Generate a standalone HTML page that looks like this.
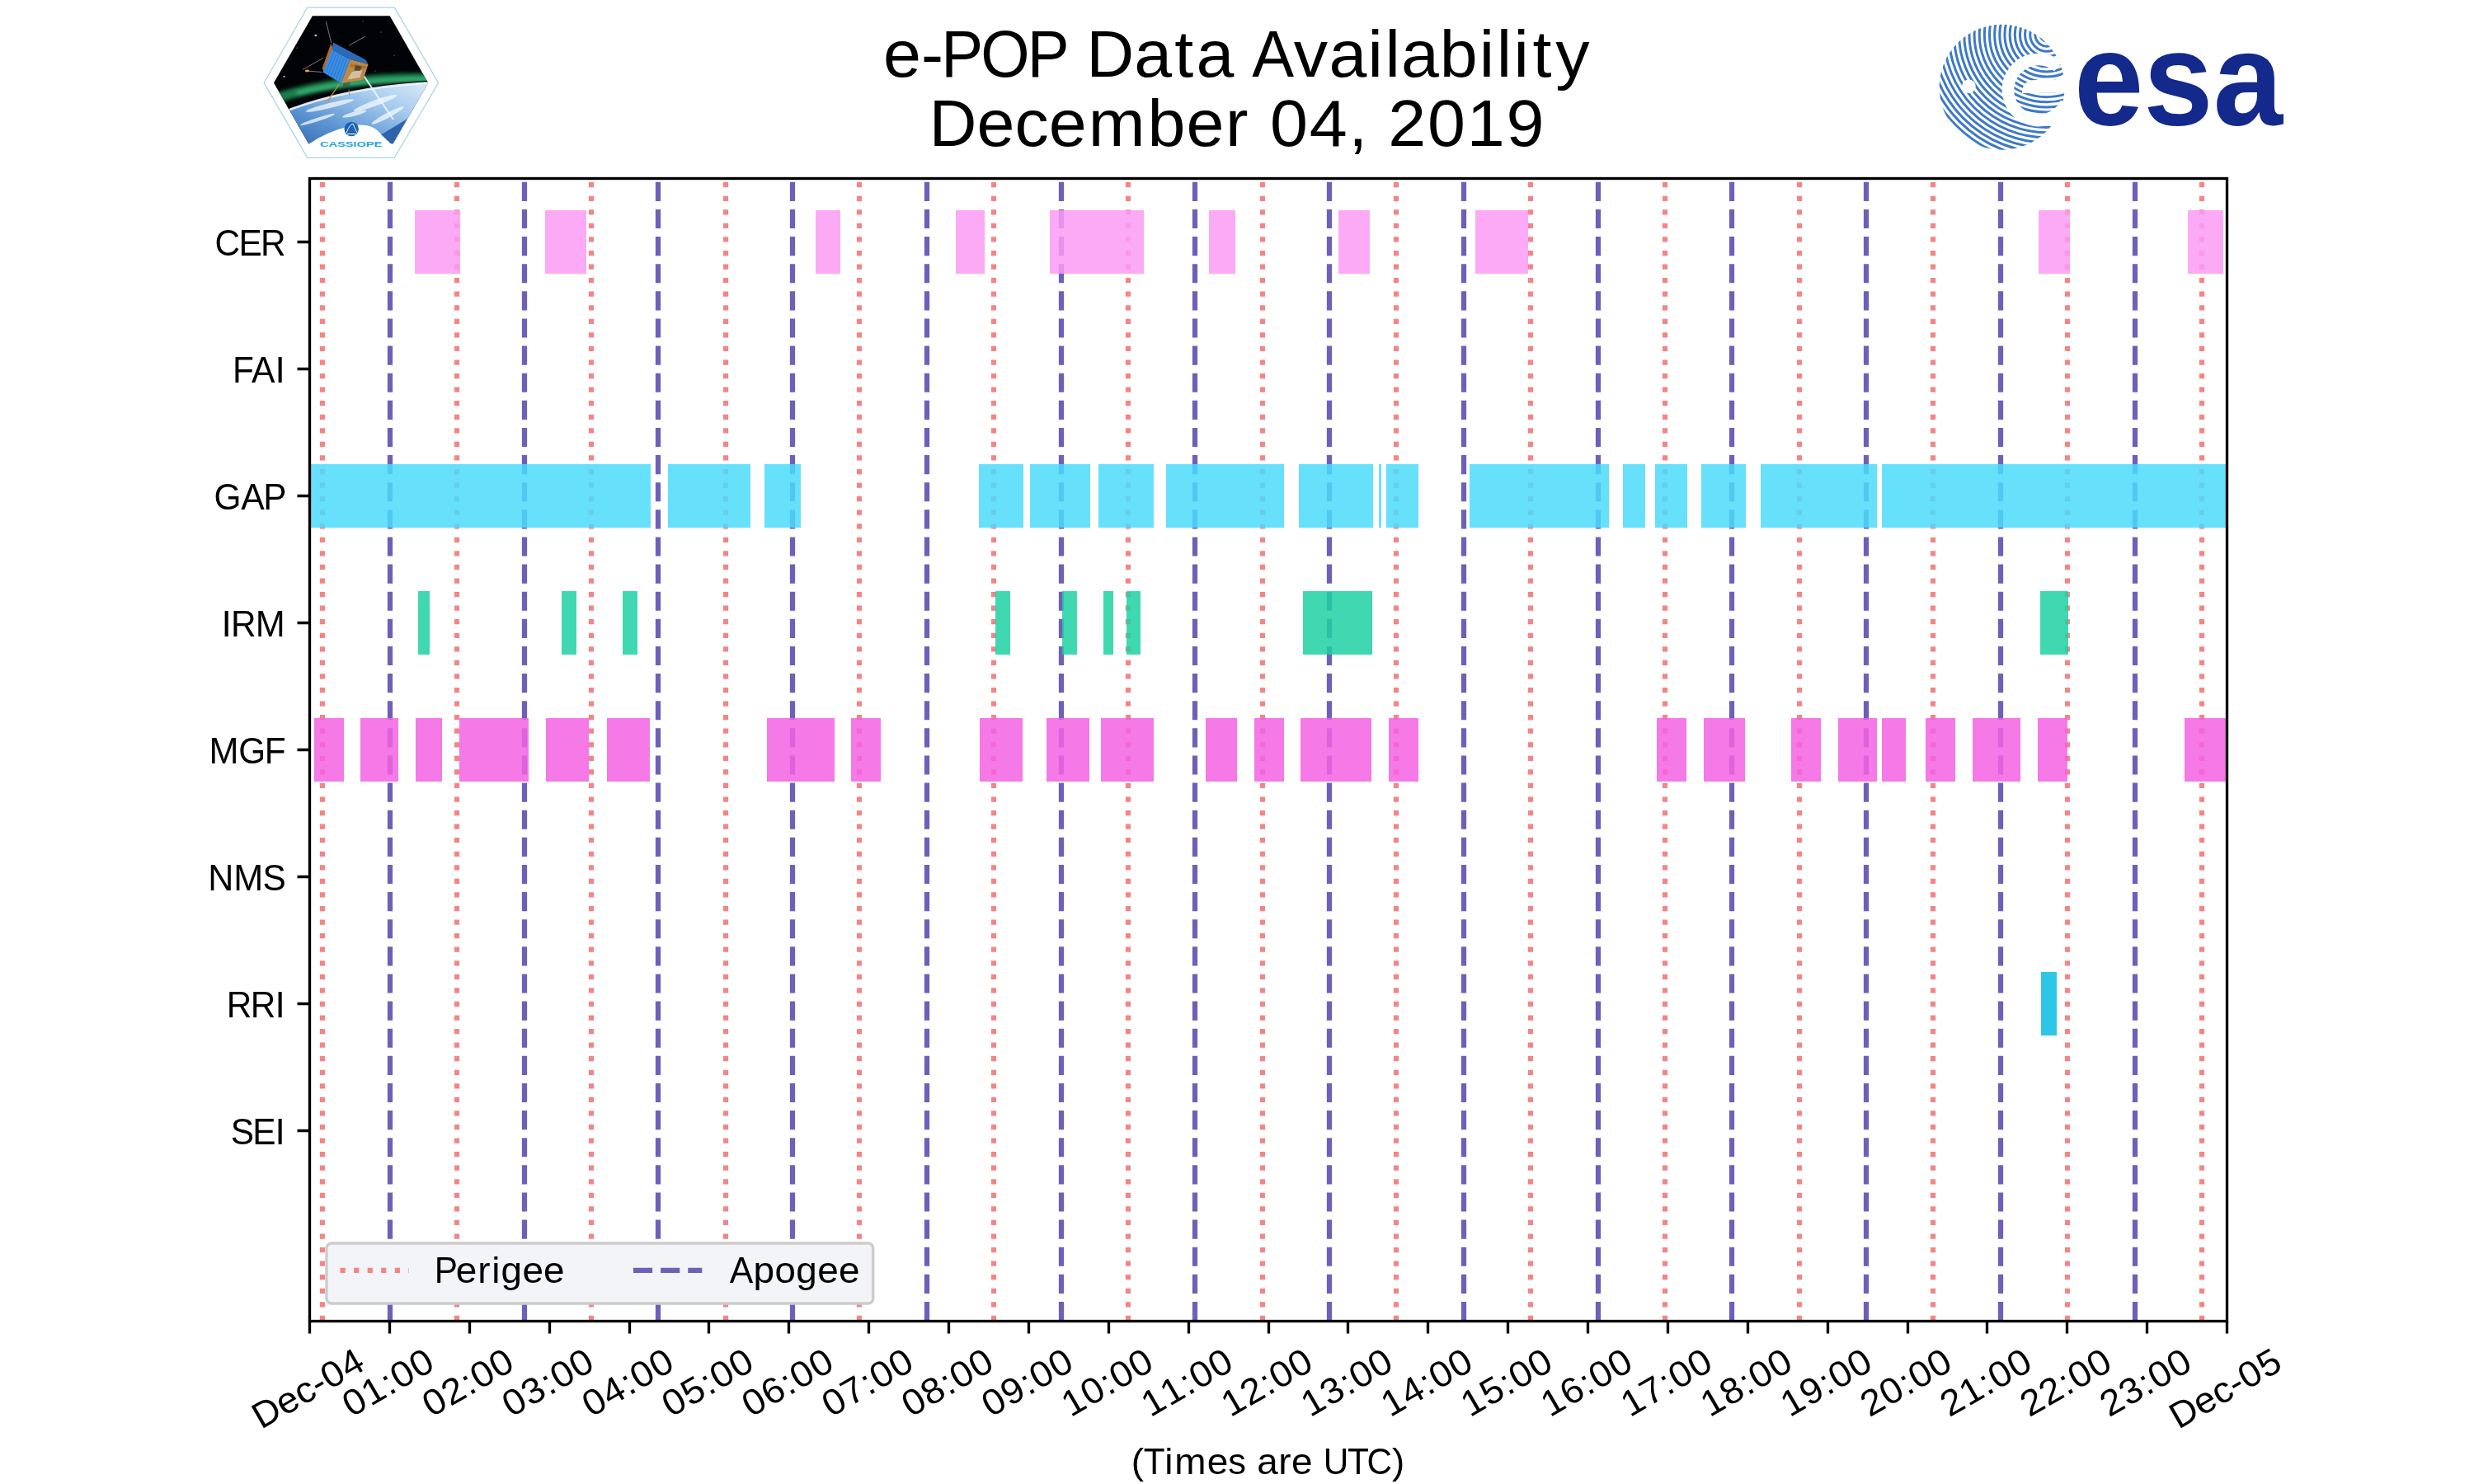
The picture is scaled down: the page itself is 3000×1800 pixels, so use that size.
<!DOCTYPE html><html><head><meta charset="utf-8"><title>e-POP Data Availability</title><style>html,body{margin:0;padding:0;background:#fff;overflow:hidden}svg{display:block}text{font-family:"Liberation Sans",sans-serif;fill:#000}</style></head><body>
<svg width="3000" height="1800" viewBox="0 0 3000 1800">
<rect width="3000" height="1800" fill="#fff"/>
<defs>
<clipPath id="hexc"><path d="M378.9 19.3H472.7L519.2 100.5L475.8 175.4H374.9L332 100.5Z"/></clipPath>
<clipPath id="esac"><circle cx="2427.6" cy="105.8" r="76"/></clipPath>
<linearGradient id="earth" x1="1" y1="0" x2="0" y2="1">
<stop offset="0" stop-color="#dcecf8"/><stop offset="0.3" stop-color="#a8cdee"/><stop offset="0.65" stop-color="#5d95d2"/><stop offset="1" stop-color="#2a62ad"/></linearGradient>
<filter id="soft" x="-20%" y="-50%" width="140%" height="200%"><feGaussianBlur stdDeviation="2.2"/></filter>
</defs>
<g id="cassiope">
<path d="M372.7 9.2H478.4L531.6 100.4L478.4 191.3H372.7L320.1 100.4Z" fill="#fff" stroke="#a8d8e2" stroke-width="1.3"/>
<g clip-path="url(#hexc)">
<rect x="330" y="18" width="192" height="162" fill="#020307"/>
<g filter="url(#soft)"><path d="M335 119Q420 93 522 95" fill="none" stroke="#1f9a5a" stroke-width="12" opacity="0.8"/>
<path d="M360 113Q430 96 522 96" fill="none" stroke="#52e39a" stroke-width="4" opacity="0.6"/></g>
<path d="M345 132Q426 105.5 522 99.5" fill="none" stroke="#03060a" stroke-width="4" opacity="0.8"/>
<path d="M340 136Q426 105.2 522 100V180H340Z" fill="url(#earth)"/>
<path d="M351 133Q426 105.2 521 100.5" fill="none" stroke="#f2f8fd" stroke-width="2.5" opacity="0.9"/>
<g fill="#f4faff" opacity="0.75">
<ellipse cx="400" cy="128" rx="30" ry="3" transform="rotate(-14 400 128)"/>
<ellipse cx="455" cy="125" rx="28" ry="3.5" transform="rotate(-20 455 125)"/>
<ellipse cx="385" cy="145" rx="22" ry="2.2" transform="rotate(-18 385 145)"/>
<ellipse cx="470" cy="140" rx="22" ry="3" transform="rotate(-28 470 140)"/>
<ellipse cx="430" cy="138" rx="15" ry="2.5" transform="rotate(-15 430 138)"/>
</g>
<path d="M462 163.6L494 143.9L476 176Z" fill="#2f63ae"/>
<path d="M365 182L374.9 174.6Q395 160 426 152.5Q452 148 462.4 163.6L482 182Z" fill="#fff"/>
<path d="M438 87.5L477 145" stroke="#eef7ff" stroke-width="2" opacity="0.9"/>
<g stroke="#8f8576" stroke-width="0.9" fill="none">
<path d="M395.4 26L401.7 52"/><path d="M423 55.2L442.7 44.2"/><path d="M367 84.4L392.3 70.2"/><path d="M371.8 86L390.7 87.5"/><path d="M423 108.4L423.8 115.5"/>
</g>
<path d="M411.2 102.1L397.8 121.8" stroke="#c98a48" stroke-width="1.2"/>
<circle cx="397.8" cy="121.8" r="1.3" fill="#e08a30"/>
<ellipse cx="372.5" cy="86" rx="2.6" ry="1.4" fill="#f0a838"/>
<path d="M401.3 52.8L404.1 59.9L392.3 86.7L390.7 82.8Z" fill="#b5682a"/>
<path d="M404 51.5L443.5 72.5L446.5 78L424.5 72L402.5 60Z" fill="#2b6ab8"/>
<path d="M402.5 60L424.5 72L413.6 100.9L391.5 87.5Z" fill="#3a8ee4"/>
<path d="M405.5 61.6L394.7 89.4M408.6 63.3L397.9 91.4M411.7 65L401 93.3M414.8 66.7L404.2 95.2M417.9 68.4L407.3 97.1M421 70.1L410.5 99" stroke="#2a6cc0" stroke-width="0.7"/>
<path d="M424.5 72L446.5 78L440.3 97L413.6 100.9Z" fill="#b98a48"/>
<path d="M427 87L439 85L436.5 94L421 96.5Z" fill="#dcd8c8" opacity="0.7"/><path d="M425 77L445 80.5L443 84L424 81Z" fill="#a86a28" opacity="0.7"/>
<path d="M431 79L439 80.5L436.5 86L429.5 85.5Z" fill="#4a4030" opacity="0.85"/>
<path d="M416 101L425 99.5L424 104L416 105.5Z" fill="#3a3a40" opacity="0.5"/>
<circle cx="382.8" cy="43" r="1.3" fill="#c8c8ff"/><circle cx="344.6" cy="93" r="1.1" fill="#c8c8ff"/>
<circle cx="440" cy="26" r="0.6" fill="#aaa"/><circle cx="462" cy="39" r="0.6" fill="#aaa"/><circle cx="478" cy="67" r="0.6" fill="#aaa"/><circle cx="455" cy="86" r="0.6" fill="#999"/><circle cx="360" cy="58" r="0.6" fill="#999"/>
<circle cx="426.2" cy="156.5" r="8.7" fill="#1a64b4"/>
<path d="M420 161Q424 151 428 150Q430 155 433 161" stroke="#fff" stroke-width="0.9" fill="none"/>
<circle cx="426.5" cy="158.5" r="1.1" fill="#e02020"/>
<path d="M421 162.5H432" stroke="#fff" stroke-width="1"/>
</g>
<path d="M372 176.2H480" stroke="#fff" stroke-width="3.2"/>
<text x="387.9" y="178.3" font-size="8.4" font-weight="bold" textLength="75.3" lengthAdjust="spacingAndGlyphs" style="fill:#1aa6df">CASSIOPE</text>
</g>
<g id="esa">
<g clip-path="url(#esac)" fill="none" stroke="#3d79c6" stroke-width="3"><circle cx="2482" cy="42" r="8.00"/><circle cx="2482" cy="42" r="14.15"/><circle cx="2482" cy="42" r="20.30"/><circle cx="2482" cy="42" r="26.45"/><circle cx="2482" cy="42" r="32.60"/><circle cx="2482" cy="42" r="38.75"/><circle cx="2482" cy="42" r="44.90"/><circle cx="2482" cy="42" r="51.05"/><circle cx="2482" cy="42" r="57.20"/><circle cx="2482" cy="42" r="63.35"/><circle cx="2482" cy="42" r="69.50"/><circle cx="2482" cy="42" r="75.65"/><circle cx="2482" cy="42" r="81.80"/><circle cx="2482" cy="42" r="87.95"/><circle cx="2482" cy="42" r="94.10"/><circle cx="2482" cy="42" r="100.25"/><circle cx="2482" cy="42" r="106.40"/><circle cx="2482" cy="42" r="112.55"/><circle cx="2482" cy="42" r="118.70"/><circle cx="2482" cy="42" r="124.85"/><circle cx="2482" cy="42" r="131.00"/><circle cx="2482" cy="42" r="137.15"/><circle cx="2482" cy="42" r="143.30"/><circle cx="2482" cy="42" r="149.45"/><circle cx="2482" cy="42" r="155.60"/><circle cx="2482" cy="42" r="161.75"/><circle cx="2482" cy="42" r="167.90"/><circle cx="2482" cy="42" r="174.05"/></g>
<path d="M2495.8 80.7A37 37 0 1 0 2505.5 124.6" fill="none" stroke="#fff" stroke-width="14.5"/>
<path d="M2452 113Q2452 97 2468 97L2492 97L2508 86L2508 112.5Z" fill="#fff"/>
<circle cx="2387.4" cy="104.8" r="8.3" fill="#fff"/>
<text x="2515" y="150.5" font-size="162" font-weight="bold" textLength="253" lengthAdjust="spacingAndGlyphs" style="fill:#13298c">esa</text>
</g>

<g fill="none" stroke-width="6.25">
<g stroke="#f28686" stroke-dasharray="6.25 10.3125">
<path d="M391 1602V216"/>
<path d="M554 1602V216"/>
<path d="M717 1602V216"/>
<path d="M880 1602V216"/>
<path d="M1042 1602V216"/>
<path d="M1205 1602V216"/>
<path d="M1368 1602V216"/>
<path d="M1531 1602V216"/>
<path d="M1693 1602V216"/>
<path d="M1856 1602V216"/>
<path d="M2019 1602V216"/>
<path d="M2182 1602V216"/>
<path d="M2344 1602V216"/>
<path d="M2507 1602V216"/>
<path d="M2670 1602V216"/>
</g><g stroke="#6e60b9" stroke-dasharray="23.125 10">
<path d="M473 1602V216"/>
<path d="M636 1602V216"/>
<path d="M798 1602V216"/>
<path d="M961 1602V216"/>
<path d="M1124 1602V216"/>
<path d="M1287 1602V216"/>
<path d="M1449 1602V216"/>
<path d="M1612 1602V216"/>
<path d="M1775 1602V216"/>
<path d="M1938 1602V216"/>
<path d="M2100 1602V216"/>
<path d="M2263 1602V216"/>
<path d="M2426 1602V216"/>
<path d="M2589 1602V216"/>
</g></g>
<g fill-opacity="0.85">
<rect x="503" y="255" width="55" height="77" fill="#fb9bf4"/>
<rect x="661" y="255" width="50" height="77" fill="#fb9bf4"/>
<rect x="989" y="255" width="30" height="77" fill="#fb9bf4"/>
<rect x="1159" y="255" width="35" height="77" fill="#fb9bf4"/>
<rect x="1273" y="255" width="114" height="77" fill="#fb9bf4"/>
<rect x="1466" y="255" width="32" height="77" fill="#fb9bf4"/>
<rect x="1623" y="255" width="38" height="77" fill="#fb9bf4"/>
<rect x="1789" y="255" width="64" height="77" fill="#fb9bf4"/>
<rect x="2472" y="255" width="38" height="77" fill="#fb9bf4"/>
<rect x="2653" y="255" width="43" height="77" fill="#fb9bf4"/>
<rect x="375" y="563" width="414" height="77" fill="#4cdafb"/>
<rect x="810" y="563" width="100" height="77" fill="#4cdafb"/>
<rect x="927" y="563" width="44" height="77" fill="#4cdafb"/>
<rect x="1187" y="563" width="54" height="77" fill="#4cdafb"/>
<rect x="1249" y="563" width="73" height="77" fill="#4cdafb"/>
<rect x="1332" y="563" width="67" height="77" fill="#4cdafb"/>
<rect x="1414" y="563" width="143" height="77" fill="#4cdafb"/>
<rect x="1575" y="563" width="90" height="77" fill="#4cdafb"/>
<rect x="1672" y="563" width="3" height="77" fill="#4cdafb"/>
<rect x="1681" y="563" width="39" height="77" fill="#4cdafb"/>
<rect x="1782" y="563" width="169" height="77" fill="#4cdafb"/>
<rect x="1968" y="563" width="27" height="77" fill="#4cdafb"/>
<rect x="2007" y="563" width="39" height="77" fill="#4cdafb"/>
<rect x="2063" y="563" width="54" height="77" fill="#4cdafb"/>
<rect x="2135" y="563" width="141" height="77" fill="#4cdafb"/>
<rect x="2282" y="563" width="418" height="77" fill="#4cdafb"/>
<rect x="507" y="717" width="14" height="77" fill="#1ed1a2"/>
<rect x="681" y="717" width="18" height="77" fill="#1ed1a2"/>
<rect x="755" y="717" width="18" height="77" fill="#1ed1a2"/>
<rect x="1207" y="717" width="18" height="77" fill="#1ed1a2"/>
<rect x="1288" y="717" width="18" height="77" fill="#1ed1a2"/>
<rect x="1338" y="717" width="12" height="77" fill="#1ed1a2"/>
<rect x="1366" y="717" width="17" height="77" fill="#1ed1a2"/>
<rect x="1580" y="717" width="84" height="77" fill="#1ed1a2"/>
<rect x="2474" y="717" width="34" height="77" fill="#1ed1a2"/>
<rect x="381" y="871" width="36" height="77" fill="#f362e2"/>
<rect x="437" y="871" width="46" height="77" fill="#f362e2"/>
<rect x="504" y="871" width="32" height="77" fill="#f362e2"/>
<rect x="557" y="871" width="84" height="77" fill="#f362e2"/>
<rect x="662" y="871" width="52" height="77" fill="#f362e2"/>
<rect x="736" y="871" width="52" height="77" fill="#f362e2"/>
<rect x="930" y="871" width="82" height="77" fill="#f362e2"/>
<rect x="1032" y="871" width="36" height="77" fill="#f362e2"/>
<rect x="1188" y="871" width="52" height="77" fill="#f362e2"/>
<rect x="1269" y="871" width="52" height="77" fill="#f362e2"/>
<rect x="1335" y="871" width="64" height="77" fill="#f362e2"/>
<rect x="1462" y="871" width="38" height="77" fill="#f362e2"/>
<rect x="1521" y="871" width="36" height="77" fill="#f362e2"/>
<rect x="1577" y="871" width="86" height="77" fill="#f362e2"/>
<rect x="1684" y="871" width="36" height="77" fill="#f362e2"/>
<rect x="2009" y="871" width="36" height="77" fill="#f362e2"/>
<rect x="2066" y="871" width="50" height="77" fill="#f362e2"/>
<rect x="2172" y="871" width="36" height="77" fill="#f362e2"/>
<rect x="2229" y="871" width="47" height="77" fill="#f362e2"/>
<rect x="2282" y="871" width="29" height="77" fill="#f362e2"/>
<rect x="2335" y="871" width="36" height="77" fill="#f362e2"/>
<rect x="2392" y="871" width="58" height="77" fill="#f362e2"/>
<rect x="2471" y="871" width="36" height="77" fill="#f362e2"/>
<rect x="2649" y="871" width="51" height="77" fill="#f362e2"/>
<rect x="2475" y="1179" width="19" height="77" fill="#09bce2"/>
</g>
<rect x="375.5" y="216.5" width="2325" height="1386" fill="none" stroke="#000" stroke-width="3.33"/>
<path d="M360.5 293.5H375.5M360.5 447.5H375.5M360.5 601.5H375.5M360.5 755.5H375.5M360.5 909.5H375.5M360.5 1063.5H375.5M360.5 1217.5H375.5M360.5 1371.5H375.5M375.5 1602.5V1617.5M472.5 1602.5V1617.5M569.5 1602.5V1617.5M666.5 1602.5V1617.5M763.5 1602.5V1617.5M859.5 1602.5V1617.5M956.5 1602.5V1617.5M1053.5 1602.5V1617.5M1150.5 1602.5V1617.5M1247.5 1602.5V1617.5M1344.5 1602.5V1617.5M1441.5 1602.5V1617.5M1538.5 1602.5V1617.5M1634.5 1602.5V1617.5M1731.5 1602.5V1617.5M1828.5 1602.5V1617.5M1925.5 1602.5V1617.5M2022.5 1602.5V1617.5M2119.5 1602.5V1617.5M2216.5 1602.5V1617.5M2313.5 1602.5V1617.5M2409.5 1602.5V1617.5M2506.5 1602.5V1617.5M2603.5 1602.5V1617.5M2700.5 1602.5V1617.5" stroke="#000" stroke-width="3.33" fill="none"/>
<rect x="396" y="1508" width="662.7" height="73" rx="6" ry="6" fill="#f3f4f8" stroke="#cccccc" stroke-width="3.33"/>
<path d="M412.5 1540.92H495.83" stroke="#f28686" stroke-width="6.25" stroke-dasharray="6.25 10.3125" fill="none"/>
<path d="M768 1540.92H851.33" stroke="#6e60b9" stroke-width="6.25" stroke-dasharray="23.125 10" fill="none"/>
<g opacity="0.999">
<g transform="translate(1071 93)"><text x="0.08" font-size="79.47" textLength="45.97" lengthAdjust="spacingAndGlyphs">e</text><text x="46.12" font-size="79.47" textLength="27" lengthAdjust="spacingAndGlyphs">-</text><text x="70.31" font-size="79.47" textLength="50.89" lengthAdjust="spacingAndGlyphs">P</text><text x="118.27" font-size="79.47" textLength="59.34" lengthAdjust="spacingAndGlyphs">O</text><text x="174.68" font-size="79.47" textLength="50.89" lengthAdjust="spacingAndGlyphs">P</text><text x="246.62" font-size="79.47" textLength="57.62" lengthAdjust="spacingAndGlyphs">D</text><text x="304.25" font-size="79.47" textLength="45.88" lengthAdjust="spacingAndGlyphs">a</text><text x="353.33" font-size="79.47" textLength="22.96" lengthAdjust="spacingAndGlyphs">t</text><text x="379.5" font-size="79.47" textLength="45.88" lengthAdjust="spacingAndGlyphs">a</text><text x="447.24" font-size="79.47" textLength="50.89" lengthAdjust="spacingAndGlyphs">A</text><text x="497.65" font-size="79.47" textLength="41.32" lengthAdjust="spacingAndGlyphs">v</text><text x="540.5" font-size="79.47" textLength="45.88" lengthAdjust="spacingAndGlyphs">a</text><text x="587.63" font-size="79.47" textLength="18.36" lengthAdjust="spacingAndGlyphs">i</text><text x="608.51" font-size="79.47" textLength="18.36" lengthAdjust="spacingAndGlyphs">l</text><text x="628.12" font-size="79.47" textLength="45.88" lengthAdjust="spacingAndGlyphs">a</text><text x="674.83" font-size="79.47" textLength="45.97" lengthAdjust="spacingAndGlyphs">b</text><text x="722.88" font-size="79.47" textLength="18.36" lengthAdjust="spacingAndGlyphs">i</text><text x="743.76" font-size="79.47" textLength="18.36" lengthAdjust="spacingAndGlyphs">l</text><text x="764.63" font-size="79.47" textLength="18.36" lengthAdjust="spacingAndGlyphs">i</text><text x="787.46" font-size="79.47" textLength="22.96" lengthAdjust="spacingAndGlyphs">t</text><text x="815.16" font-size="79.47" textLength="41.32" lengthAdjust="spacingAndGlyphs">y</text></g>
<g transform="translate(1126.69 177.4)"><text x="0" font-size="79.47" textLength="57.62" lengthAdjust="spacingAndGlyphs">D</text><text x="57.7" font-size="79.47" textLength="45.97" lengthAdjust="spacingAndGlyphs">e</text><text x="103.75" font-size="79.47" textLength="41.25" lengthAdjust="spacingAndGlyphs">c</text><text x="145.08" font-size="79.47" textLength="45.97" lengthAdjust="spacingAndGlyphs">e</text><text x="193.14" font-size="79.47" textLength="68.85" lengthAdjust="spacingAndGlyphs">m</text><text x="264.83" font-size="79.47" textLength="45.97" lengthAdjust="spacingAndGlyphs">b</text><text x="311.7" font-size="79.47" textLength="45.97" lengthAdjust="spacingAndGlyphs">e</text><text x="359.43" font-size="79.47" textLength="27.52" lengthAdjust="spacingAndGlyphs">r</text><text x="413.39" font-size="79.47" textLength="45.97" lengthAdjust="spacingAndGlyphs">0</text><text x="461.14" font-size="79.47" textLength="45.97" lengthAdjust="spacingAndGlyphs">4</text><text x="508.46" font-size="79.47" textLength="22.96" lengthAdjust="spacingAndGlyphs">,</text><text x="556.64" font-size="79.47" textLength="45.97" lengthAdjust="spacingAndGlyphs">2</text><text x="604.39" font-size="79.47" textLength="45.97" lengthAdjust="spacingAndGlyphs">0</text><text x="652.08" font-size="79.47" textLength="45.97" lengthAdjust="spacingAndGlyphs">1</text><text x="699.75" font-size="79.47" textLength="45.97" lengthAdjust="spacingAndGlyphs">9</text></g>
<g transform="translate(261.33 309.5)"><text x="-0.74" font-size="44.15" textLength="30.61" lengthAdjust="spacingAndGlyphs">C</text><text x="28.18" font-size="44.15" textLength="28.27" lengthAdjust="spacingAndGlyphs">E</text><text x="54.67" font-size="44.15" textLength="30.61" lengthAdjust="spacingAndGlyphs">R</text></g>
<g transform="translate(284.83 463.5)"><text x="-2.88" font-size="44.15" textLength="25.89" lengthAdjust="spacingAndGlyphs">F</text><text x="20.12" font-size="44.15" textLength="28.5" lengthAdjust="spacingAndGlyphs">A</text><text x="48.62" font-size="44.15" textLength="12.29" lengthAdjust="spacingAndGlyphs">I</text></g>
<g transform="translate(259.96 617.5)"><text x="-0.36" font-size="44.15" textLength="32.97" lengthAdjust="spacingAndGlyphs">G</text><text x="32.25" font-size="44.15" textLength="28.5" lengthAdjust="spacingAndGlyphs">A</text><text x="59.18" font-size="44.15" textLength="28.27" lengthAdjust="spacingAndGlyphs">P</text></g>
<g transform="translate(268.46 771.5)"><text x="-0" font-size="44.15" textLength="12.38" lengthAdjust="spacingAndGlyphs">I</text><text x="11.57" font-size="44.15" textLength="30.61" lengthAdjust="spacingAndGlyphs">R</text><text x="41.38" font-size="44.15" textLength="35.95" lengthAdjust="spacingAndGlyphs">M</text></g>
<g transform="translate(253.58 925.5)"><text x="0" font-size="44.15" textLength="36" lengthAdjust="spacingAndGlyphs">M</text><text x="35.64" font-size="44.15" textLength="32.97" lengthAdjust="spacingAndGlyphs">G</text><text x="67.29" font-size="44.15" textLength="25.89" lengthAdjust="spacingAndGlyphs">F</text></g>
<g transform="translate(252.21 1079.5)"><text x="0" font-size="44.15" textLength="31.12" lengthAdjust="spacingAndGlyphs">N</text><text x="31.12" font-size="44.15" textLength="36" lengthAdjust="spacingAndGlyphs">M</text><text x="66.21" font-size="44.15" textLength="28.27" lengthAdjust="spacingAndGlyphs">S</text></g>
<g transform="translate(275.46 1233.5)"><text x="-0.8" font-size="44.15" textLength="30.61" lengthAdjust="spacingAndGlyphs">R</text><text x="28.2" font-size="44.15" textLength="30.61" lengthAdjust="spacingAndGlyphs">R</text><text x="58" font-size="44.15" textLength="12.29" lengthAdjust="spacingAndGlyphs">I</text></g>
<g transform="translate(280.58 1387.5)"><text x="-0.88" font-size="44.15" textLength="28.27" lengthAdjust="spacingAndGlyphs">S</text><text x="25.55" font-size="44.15" textLength="28.27" lengthAdjust="spacingAndGlyphs">E</text><text x="52.88" font-size="44.15" textLength="12.29" lengthAdjust="spacingAndGlyphs">I</text></g>
<g transform="translate(316.64 1734.06) rotate(-30)"><text x="0" font-size="44.15" textLength="32.12" lengthAdjust="spacingAndGlyphs">D</text><text x="32.17" font-size="44.15" textLength="25.54" lengthAdjust="spacingAndGlyphs">e</text><text x="57.75" font-size="44.15" textLength="22.87" lengthAdjust="spacingAndGlyphs">c</text><text x="80.62" font-size="44.15" textLength="15" lengthAdjust="spacingAndGlyphs">-</text><text x="96.11" font-size="44.15" textLength="25.54" lengthAdjust="spacingAndGlyphs">0</text><text x="122.61" font-size="44.15" textLength="25.54" lengthAdjust="spacingAndGlyphs">4</text></g>
<g transform="translate(425.91 1719.75) rotate(-30)"><text x="0.48" font-size="44.15" textLength="25.54" lengthAdjust="spacingAndGlyphs">0</text><text x="26.98" font-size="44.15" textLength="25.54" lengthAdjust="spacingAndGlyphs">1</text><text x="53.62" font-size="44.15" textLength="12.76" lengthAdjust="spacingAndGlyphs">:</text><text x="67.48" font-size="44.15" textLength="25.54" lengthAdjust="spacingAndGlyphs">0</text><text x="93.99" font-size="44.15" textLength="25.54" lengthAdjust="spacingAndGlyphs">0</text></g>
<g transform="translate(522.84 1719.68) rotate(-30)"><text x="0.48" font-size="44.15" textLength="25.54" lengthAdjust="spacingAndGlyphs">0</text><text x="26.92" font-size="44.15" textLength="25.54" lengthAdjust="spacingAndGlyphs">2</text><text x="53.5" font-size="44.15" textLength="12.76" lengthAdjust="spacingAndGlyphs">:</text><text x="67.36" font-size="44.15" textLength="25.54" lengthAdjust="spacingAndGlyphs">0</text><text x="93.86" font-size="44.15" textLength="25.54" lengthAdjust="spacingAndGlyphs">0</text></g>
<g transform="translate(619.61 1719.81) rotate(-30)"><text x="0.48" font-size="44.15" textLength="25.54" lengthAdjust="spacingAndGlyphs">0</text><text x="27.04" font-size="44.15" textLength="25.54" lengthAdjust="spacingAndGlyphs">3</text><text x="53.75" font-size="44.15" textLength="12.76" lengthAdjust="spacingAndGlyphs">:</text><text x="67.61" font-size="44.15" textLength="25.54" lengthAdjust="spacingAndGlyphs">0</text><text x="94.11" font-size="44.15" textLength="25.54" lengthAdjust="spacingAndGlyphs">0</text></g>
<g transform="translate(716.54 1719.75) rotate(-30)"><text x="0.48" font-size="44.15" textLength="25.54" lengthAdjust="spacingAndGlyphs">0</text><text x="26.98" font-size="44.15" textLength="25.54" lengthAdjust="spacingAndGlyphs">4</text><text x="53.62" font-size="44.15" textLength="12.76" lengthAdjust="spacingAndGlyphs">:</text><text x="67.48" font-size="44.15" textLength="25.54" lengthAdjust="spacingAndGlyphs">0</text><text x="93.99" font-size="44.15" textLength="25.54" lengthAdjust="spacingAndGlyphs">0</text></g>
<g transform="translate(813.41 1719.75) rotate(-30)"><text x="0.48" font-size="44.15" textLength="25.54" lengthAdjust="spacingAndGlyphs">0</text><text x="26.98" font-size="44.15" textLength="25.54" lengthAdjust="spacingAndGlyphs">5</text><text x="53.62" font-size="44.15" textLength="12.76" lengthAdjust="spacingAndGlyphs">:</text><text x="67.48" font-size="44.15" textLength="25.54" lengthAdjust="spacingAndGlyphs">0</text><text x="93.99" font-size="44.15" textLength="25.54" lengthAdjust="spacingAndGlyphs">0</text></g>
<g transform="translate(910.29 1719.75) rotate(-30)"><text x="0.48" font-size="44.15" textLength="25.54" lengthAdjust="spacingAndGlyphs">0</text><text x="26.98" font-size="44.15" textLength="25.54" lengthAdjust="spacingAndGlyphs">6</text><text x="53.62" font-size="44.15" textLength="12.76" lengthAdjust="spacingAndGlyphs">:</text><text x="67.48" font-size="44.15" textLength="25.54" lengthAdjust="spacingAndGlyphs">0</text><text x="93.99" font-size="44.15" textLength="25.54" lengthAdjust="spacingAndGlyphs">0</text></g>
<g transform="translate(1007.22 1719.68) rotate(-30)"><text x="0.48" font-size="44.15" textLength="25.54" lengthAdjust="spacingAndGlyphs">0</text><text x="26.92" font-size="44.15" textLength="25.54" lengthAdjust="spacingAndGlyphs">7</text><text x="53.5" font-size="44.15" textLength="12.76" lengthAdjust="spacingAndGlyphs">:</text><text x="67.36" font-size="44.15" textLength="25.54" lengthAdjust="spacingAndGlyphs">0</text><text x="93.86" font-size="44.15" textLength="25.54" lengthAdjust="spacingAndGlyphs">0</text></g>
<g transform="translate(1103.98 1719.81) rotate(-30)"><text x="0.48" font-size="44.15" textLength="25.54" lengthAdjust="spacingAndGlyphs">0</text><text x="27.04" font-size="44.15" textLength="25.54" lengthAdjust="spacingAndGlyphs">8</text><text x="53.75" font-size="44.15" textLength="12.76" lengthAdjust="spacingAndGlyphs">:</text><text x="67.61" font-size="44.15" textLength="25.54" lengthAdjust="spacingAndGlyphs">0</text><text x="94.11" font-size="44.15" textLength="25.54" lengthAdjust="spacingAndGlyphs">0</text></g>
<g transform="translate(1200.97 1719.68) rotate(-30)"><text x="0.48" font-size="44.15" textLength="25.54" lengthAdjust="spacingAndGlyphs">0</text><text x="26.92" font-size="44.15" textLength="25.54" lengthAdjust="spacingAndGlyphs">9</text><text x="53.5" font-size="44.15" textLength="12.76" lengthAdjust="spacingAndGlyphs">:</text><text x="67.36" font-size="44.15" textLength="25.54" lengthAdjust="spacingAndGlyphs">0</text><text x="93.86" font-size="44.15" textLength="25.54" lengthAdjust="spacingAndGlyphs">0</text></g>
<g transform="translate(1297.79 1719.75) rotate(-30)"><text x="0.48" font-size="44.15" textLength="25.54" lengthAdjust="spacingAndGlyphs">1</text><text x="26.98" font-size="44.15" textLength="25.54" lengthAdjust="spacingAndGlyphs">0</text><text x="53.62" font-size="44.15" textLength="12.76" lengthAdjust="spacingAndGlyphs">:</text><text x="67.48" font-size="44.15" textLength="25.54" lengthAdjust="spacingAndGlyphs">0</text><text x="93.99" font-size="44.15" textLength="25.54" lengthAdjust="spacingAndGlyphs">0</text></g>
<g transform="translate(1394.66 1719.75) rotate(-30)"><text x="0.48" font-size="44.15" textLength="25.54" lengthAdjust="spacingAndGlyphs">1</text><text x="26.98" font-size="44.15" textLength="25.54" lengthAdjust="spacingAndGlyphs">1</text><text x="53.62" font-size="44.15" textLength="12.76" lengthAdjust="spacingAndGlyphs">:</text><text x="67.48" font-size="44.15" textLength="25.54" lengthAdjust="spacingAndGlyphs">0</text><text x="93.99" font-size="44.15" textLength="25.54" lengthAdjust="spacingAndGlyphs">0</text></g>
<g transform="translate(1491.59 1719.68) rotate(-30)"><text x="0.48" font-size="44.15" textLength="25.54" lengthAdjust="spacingAndGlyphs">1</text><text x="26.92" font-size="44.15" textLength="25.54" lengthAdjust="spacingAndGlyphs">2</text><text x="53.5" font-size="44.15" textLength="12.76" lengthAdjust="spacingAndGlyphs">:</text><text x="67.36" font-size="44.15" textLength="25.54" lengthAdjust="spacingAndGlyphs">0</text><text x="93.86" font-size="44.15" textLength="25.54" lengthAdjust="spacingAndGlyphs">0</text></g>
<g transform="translate(1588.36 1719.81) rotate(-30)"><text x="0.48" font-size="44.15" textLength="25.54" lengthAdjust="spacingAndGlyphs">1</text><text x="27.04" font-size="44.15" textLength="25.54" lengthAdjust="spacingAndGlyphs">3</text><text x="53.75" font-size="44.15" textLength="12.76" lengthAdjust="spacingAndGlyphs">:</text><text x="67.61" font-size="44.15" textLength="25.54" lengthAdjust="spacingAndGlyphs">0</text><text x="94.11" font-size="44.15" textLength="25.54" lengthAdjust="spacingAndGlyphs">0</text></g>
<g transform="translate(1685.29 1719.75) rotate(-30)"><text x="0.48" font-size="44.15" textLength="25.54" lengthAdjust="spacingAndGlyphs">1</text><text x="26.98" font-size="44.15" textLength="25.54" lengthAdjust="spacingAndGlyphs">4</text><text x="53.62" font-size="44.15" textLength="12.76" lengthAdjust="spacingAndGlyphs">:</text><text x="67.48" font-size="44.15" textLength="25.54" lengthAdjust="spacingAndGlyphs">0</text><text x="93.99" font-size="44.15" textLength="25.54" lengthAdjust="spacingAndGlyphs">0</text></g>
<g transform="translate(1782.16 1719.75) rotate(-30)"><text x="0.48" font-size="44.15" textLength="25.54" lengthAdjust="spacingAndGlyphs">1</text><text x="26.98" font-size="44.15" textLength="25.54" lengthAdjust="spacingAndGlyphs">5</text><text x="53.62" font-size="44.15" textLength="12.76" lengthAdjust="spacingAndGlyphs">:</text><text x="67.48" font-size="44.15" textLength="25.54" lengthAdjust="spacingAndGlyphs">0</text><text x="93.99" font-size="44.15" textLength="25.54" lengthAdjust="spacingAndGlyphs">0</text></g>
<g transform="translate(1879.04 1719.75) rotate(-30)"><text x="0.48" font-size="44.15" textLength="25.54" lengthAdjust="spacingAndGlyphs">1</text><text x="26.98" font-size="44.15" textLength="25.54" lengthAdjust="spacingAndGlyphs">6</text><text x="53.62" font-size="44.15" textLength="12.76" lengthAdjust="spacingAndGlyphs">:</text><text x="67.48" font-size="44.15" textLength="25.54" lengthAdjust="spacingAndGlyphs">0</text><text x="93.99" font-size="44.15" textLength="25.54" lengthAdjust="spacingAndGlyphs">0</text></g>
<g transform="translate(1975.97 1719.68) rotate(-30)"><text x="0.48" font-size="44.15" textLength="25.54" lengthAdjust="spacingAndGlyphs">1</text><text x="26.92" font-size="44.15" textLength="25.54" lengthAdjust="spacingAndGlyphs">7</text><text x="53.5" font-size="44.15" textLength="12.76" lengthAdjust="spacingAndGlyphs">:</text><text x="67.36" font-size="44.15" textLength="25.54" lengthAdjust="spacingAndGlyphs">0</text><text x="93.86" font-size="44.15" textLength="25.54" lengthAdjust="spacingAndGlyphs">0</text></g>
<g transform="translate(2072.73 1719.81) rotate(-30)"><text x="0.48" font-size="44.15" textLength="25.54" lengthAdjust="spacingAndGlyphs">1</text><text x="27.04" font-size="44.15" textLength="25.54" lengthAdjust="spacingAndGlyphs">8</text><text x="53.75" font-size="44.15" textLength="12.76" lengthAdjust="spacingAndGlyphs">:</text><text x="67.61" font-size="44.15" textLength="25.54" lengthAdjust="spacingAndGlyphs">0</text><text x="94.11" font-size="44.15" textLength="25.54" lengthAdjust="spacingAndGlyphs">0</text></g>
<g transform="translate(2169.72 1719.68) rotate(-30)"><text x="0.48" font-size="44.15" textLength="25.54" lengthAdjust="spacingAndGlyphs">1</text><text x="26.92" font-size="44.15" textLength="25.54" lengthAdjust="spacingAndGlyphs">9</text><text x="53.5" font-size="44.15" textLength="12.76" lengthAdjust="spacingAndGlyphs">:</text><text x="67.36" font-size="44.15" textLength="25.54" lengthAdjust="spacingAndGlyphs">0</text><text x="93.86" font-size="44.15" textLength="25.54" lengthAdjust="spacingAndGlyphs">0</text></g>
<g transform="translate(2266.59 1719.68) rotate(-30)"><text x="0.42" font-size="44.15" textLength="25.54" lengthAdjust="spacingAndGlyphs">2</text><text x="26.86" font-size="44.15" textLength="25.54" lengthAdjust="spacingAndGlyphs">0</text><text x="53.5" font-size="44.15" textLength="12.76" lengthAdjust="spacingAndGlyphs">:</text><text x="67.36" font-size="44.15" textLength="25.54" lengthAdjust="spacingAndGlyphs">0</text><text x="93.86" font-size="44.15" textLength="25.54" lengthAdjust="spacingAndGlyphs">0</text></g>
<g transform="translate(2363.47 1719.68) rotate(-30)"><text x="0.42" font-size="44.15" textLength="25.54" lengthAdjust="spacingAndGlyphs">2</text><text x="26.86" font-size="44.15" textLength="25.54" lengthAdjust="spacingAndGlyphs">1</text><text x="53.5" font-size="44.15" textLength="12.76" lengthAdjust="spacingAndGlyphs">:</text><text x="67.36" font-size="44.15" textLength="25.54" lengthAdjust="spacingAndGlyphs">0</text><text x="93.86" font-size="44.15" textLength="25.54" lengthAdjust="spacingAndGlyphs">0</text></g>
<g transform="translate(2460.4 1719.62) rotate(-30)"><text x="0.42" font-size="44.15" textLength="25.54" lengthAdjust="spacingAndGlyphs">2</text><text x="26.79" font-size="44.15" textLength="25.54" lengthAdjust="spacingAndGlyphs">2</text><text x="53.37" font-size="44.15" textLength="12.76" lengthAdjust="spacingAndGlyphs">:</text><text x="67.23" font-size="44.15" textLength="25.54" lengthAdjust="spacingAndGlyphs">0</text><text x="93.74" font-size="44.15" textLength="25.54" lengthAdjust="spacingAndGlyphs">0</text></g>
<g transform="translate(2557.16 1719.75) rotate(-30)"><text x="0.42" font-size="44.15" textLength="25.54" lengthAdjust="spacingAndGlyphs">2</text><text x="26.92" font-size="44.15" textLength="25.54" lengthAdjust="spacingAndGlyphs">3</text><text x="53.62" font-size="44.15" textLength="12.76" lengthAdjust="spacingAndGlyphs">:</text><text x="67.48" font-size="44.15" textLength="25.54" lengthAdjust="spacingAndGlyphs">0</text><text x="93.99" font-size="44.15" textLength="25.54" lengthAdjust="spacingAndGlyphs">0</text></g>
<g transform="translate(2641.64 1734.06) rotate(-30)"><text x="0" font-size="44.15" textLength="32.12" lengthAdjust="spacingAndGlyphs">D</text><text x="32.17" font-size="44.15" textLength="25.54" lengthAdjust="spacingAndGlyphs">e</text><text x="57.75" font-size="44.15" textLength="22.87" lengthAdjust="spacingAndGlyphs">c</text><text x="80.62" font-size="44.15" textLength="15" lengthAdjust="spacingAndGlyphs">-</text><text x="96.11" font-size="44.15" textLength="25.54" lengthAdjust="spacingAndGlyphs">0</text><text x="122.61" font-size="44.15" textLength="25.54" lengthAdjust="spacingAndGlyphs">5</text></g>
<g transform="translate(1371.31 1788.32)"><text x="0.48" font-size="44.15" textLength="15.29" lengthAdjust="spacingAndGlyphs">(</text><text x="15.37" font-size="44.15" textLength="25.89" lengthAdjust="spacingAndGlyphs">T</text><text x="41.02" font-size="44.15" textLength="10.2" lengthAdjust="spacingAndGlyphs">i</text><text x="53" font-size="44.15" textLength="38.25" lengthAdjust="spacingAndGlyphs">m</text><text x="92.42" font-size="44.15" textLength="25.54" lengthAdjust="spacingAndGlyphs">e</text><text x="118" font-size="44.15" textLength="21.75" lengthAdjust="spacingAndGlyphs">s</text><text x="153" font-size="44.15" textLength="25.5" lengthAdjust="spacingAndGlyphs">a</text><text x="178.98" font-size="44.15" textLength="15.29" lengthAdjust="spacingAndGlyphs">r</text><text x="194.79" font-size="44.15" textLength="25.54" lengthAdjust="spacingAndGlyphs">e</text><text x="233.57" font-size="44.15" textLength="30.61" lengthAdjust="spacingAndGlyphs">U</text><text x="262.62" font-size="44.15" textLength="25.89" lengthAdjust="spacingAndGlyphs">T</text><text x="286.26" font-size="44.15" textLength="30.61" lengthAdjust="spacingAndGlyphs">C</text><text x="316.61" font-size="44.15" textLength="15.29" lengthAdjust="spacingAndGlyphs">)</text></g>
<g transform="translate(529.17 1555.5)"><text x="-2.32" font-size="44.15" textLength="28.27" lengthAdjust="spacingAndGlyphs">P</text><text x="23.67" font-size="44.15" textLength="25.54" lengthAdjust="spacingAndGlyphs">e</text><text x="50.17" font-size="44.15" textLength="15.29" lengthAdjust="spacingAndGlyphs">r</text><text x="67.02" font-size="44.15" textLength="10.2" lengthAdjust="spacingAndGlyphs">i</text><text x="78.29" font-size="44.15" textLength="25.54" lengthAdjust="spacingAndGlyphs">g</text><text x="104.29" font-size="44.15" textLength="25.54" lengthAdjust="spacingAndGlyphs">e</text><text x="129.92" font-size="44.15" textLength="25.54" lengthAdjust="spacingAndGlyphs">e</text></g>
<g transform="translate(884.67 1555.5)"><text x="0" font-size="44.15" textLength="28.5" lengthAdjust="spacingAndGlyphs">A</text><text x="28.92" font-size="44.15" textLength="25.54" lengthAdjust="spacingAndGlyphs">p</text><text x="54.88" font-size="44.15" textLength="25.38" lengthAdjust="spacingAndGlyphs">o</text><text x="80.67" font-size="44.15" textLength="25.54" lengthAdjust="spacingAndGlyphs">g</text><text x="106.67" font-size="44.15" textLength="25.54" lengthAdjust="spacingAndGlyphs">e</text><text x="132.3" font-size="44.15" textLength="25.54" lengthAdjust="spacingAndGlyphs">e</text></g>
</g>
</svg></body></html>
